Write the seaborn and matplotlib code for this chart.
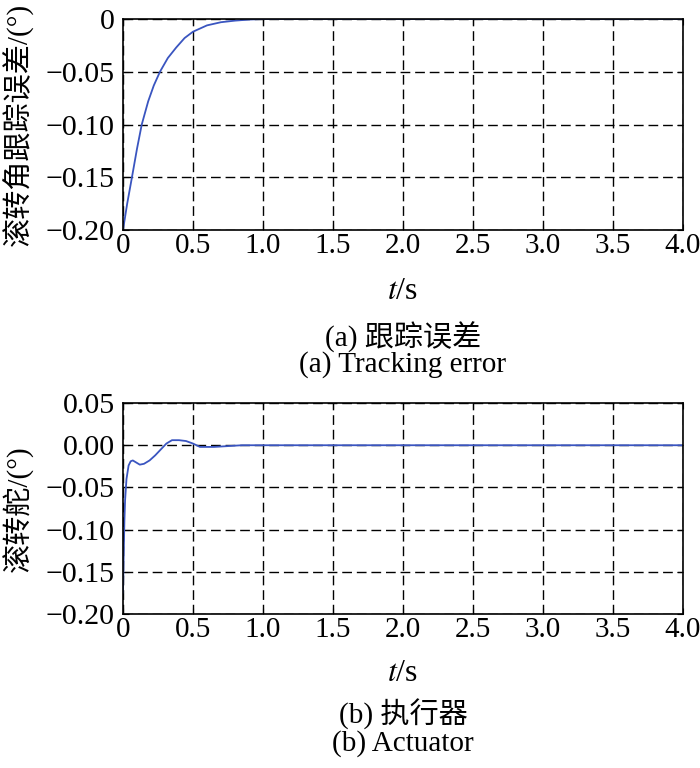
import matplotlib
matplotlib.use("Agg")
import matplotlib.pyplot as plt
import pandas as pd
import seaborn as sns

# tracking error curve
t_err = [0, 0.03, 0.064, 0.10, 0.134, 0.18, 0.22, 0.264, 0.32, 0.38, 0.44, 0.50,
         0.60, 0.70, 0.80, 0.90, 1.0, 2.0, 3.0, 4.0]
err = [-0.200, -0.175, -0.150, -0.123, -0.100, -0.078, -0.063, -0.050, -0.037,
       -0.027, -0.018, -0.012, -0.006, -0.003, -0.0015, -0.0005, 0, 0, 0, 0]

# actuator curve
t_act = [0, 0.005, 0.01, 0.015, 0.025, 0.04, 0.055, 0.07, 0.09, 0.12, 0.15, 0.19,
         0.23, 0.27, 0.31, 0.35, 0.40, 0.45, 0.50, 0.55, 0.65, 0.75, 0.85, 2.0, 4.0]
act = [-0.175, -0.13, -0.09, -0.065, -0.040, -0.024, -0.019, -0.018, -0.020,
       -0.023, -0.022, -0.018, -0.012, -0.005, 0.002, 0.006, 0.006, 0.005, 0.002,
       -0.002, -0.002, -0.001, 0, 0, 0]

x_ticks = [0, 0.5, 1.0, 1.5, 2.0, 2.5, 3.0, 3.5, 4.0]
x_labels = ["0", "0.5", "1.0", "1.5", "2.0", "2.5", "3.0", "3.5", "4.0"]
y1_ticks = [0, -0.05, -0.10, -0.15, -0.20]
y1_labels = ["0", "\u22120.05", "\u22120.10", "\u22120.15", "\u22120.20"]
y2_ticks = [0.05, 0, -0.05, -0.10, -0.15, -0.20]
y2_labels = ["0.05", "0.00", "\u22120.05", "\u22120.10", "\u22120.15", "\u22120.20"]

sns.set_style("ticks")
plt.rcParams["font.family"] = ["Liberation Serif", "Noto Sans CJK SC"]
plt.rcParams["mathtext.fontset"] = "stix"
plt.rcParams["text.color"] = "black"
plt.rcParams["xtick.color"] = "black"
plt.rcParams["ytick.color"] = "black"

df1 = pd.DataFrame({"t": t_err, "y": err})
df2 = pd.DataFrame({"t": t_act, "y": act})

fig = plt.figure(figsize=(7, 7.68), dpi=100)
ax1 = fig.add_axes([0.1757, 0.7005, 0.8, 0.2747])
ax2 = fig.add_axes([0.1757, 0.2005, 0.8, 0.2747])

line_color = "#3a55c0"
for ax, df, yt, yl in [(ax1, df1, y1_ticks, y1_labels),
                       (ax2, df2, y2_ticks, y2_labels)]:
    sns.lineplot(data=df, x="t", y="y", ax=ax, color=line_color, linewidth=1.3)
    ax.set_xlim(0, 4)
    ax.set_ylim(min(yt), max(yt))
    ax.set_xticks(x_ticks)
    ax.set_xticklabels(x_labels, fontsize=21)
    ax.set_yticks(yt)
    ax.set_yticklabels(yl, fontsize=21.5)
    ax.grid(True, linestyle=(0, (7, 3.5)), color="black", linewidth=1.0)
    ax.tick_params(direction="in", length=4, top=True, right=True)
    ax.tick_params(axis="x", pad=2)
    ax.tick_params(axis="y", pad=6)
    for s in ax.spines.values():
        s.set_visible(True)
        s.set_color("black")
        s.set_linewidth(1.2)
    ax.set_xlabel("")
    ax.set_ylabel("")

# axis labels
fig.text(0.026, 0.8378, "滚转角跟踪误差/(°)", rotation=90, ha="center", va="center", fontsize=21)
fig.text(0.026, 0.3378, "滚转舵/(°)", rotation=90, ha="center", va="center", fontsize=21)
fig.text(0.5757, 0.621, r"$t$/s", ha="center", va="center", fontsize=23)
fig.text(0.5757, 0.1224, r"$t$/s", ha="center", va="center", fontsize=23)

# captions
fig.text(0.5757, 0.561, "(a) 跟踪误差", ha="center", va="center", fontsize=21)
fig.text(0.5757, 0.526, "(a) Tracking error", ha="center", va="center", fontsize=21)
fig.text(0.5757, 0.0703, "(b) 执行器", ha="center", va="center", fontsize=21)
fig.text(0.5757, 0.0313, "(b) Actuator", ha="center", va="center", fontsize=21)

fig.savefig("out.png", dpi=100)
